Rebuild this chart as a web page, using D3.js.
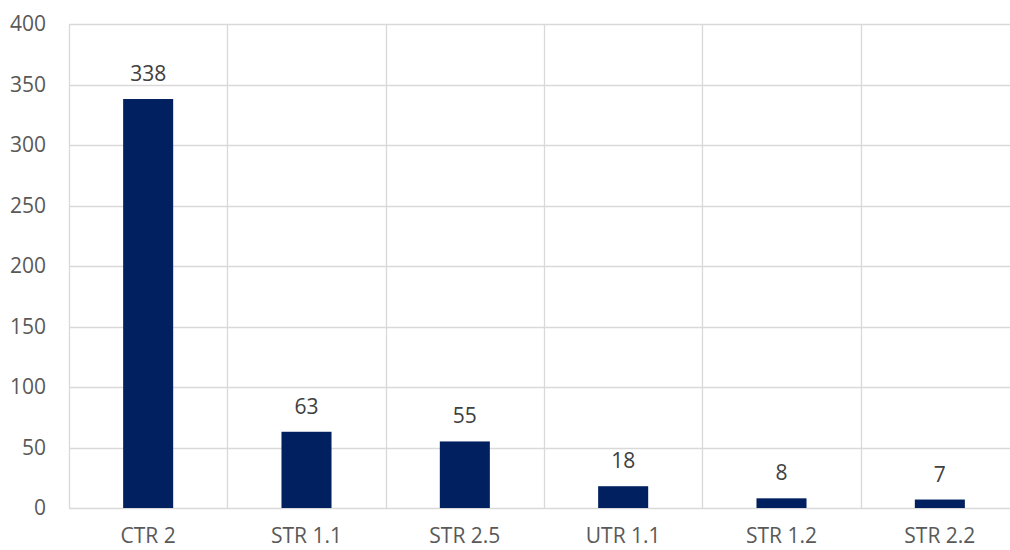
<!DOCTYPE html>
<html>
<head>
<meta charset="utf-8">
<script src="https://cdn.jsdelivr.net/npm/d3@7"></script>
<style>
  html, body { margin: 0; padding: 0; background: #ffffff; overflow: hidden; }
  svg { display: block; font-family: "Open Sans", sans-serif; }
</style>
</head>
<body>
<svg id="chart" width="1010" height="550"></svg>
<script>
const categories = ["CTR 2", "STR 1.1", "STR 2.5", "UTR 1.1", "STR 1.2", "STR 2.2"];
const values = [338, 63, 55, 18, 8, 7];
const yTicks = [0, 50, 100, 150, 200, 250, 300, 350, 400];

const svg = d3.select("#chart");
const plotLeft = 69, plotRight = 1019, plotTop = 24, plotBottom = 508;

const x = d3.scaleBand().domain(categories).range([plotLeft, plotRight]).padding(0);
const xBar = d3.scaleBand().domain(categories).range([plotLeft, plotRight])
  .paddingInner(0.684).paddingOuter(0.342);
const y = d3.scaleLinear().domain([0, 400]).range([plotBottom, plotTop]);

const grid = svg.append("g");
grid.selectAll("line.h").data(yTicks).join("line")
  .attr("x1", plotLeft).attr("x2", plotRight)
  .attr("y1", d => Math.round(y(d)) + 0.5).attr("y2", d => Math.round(y(d)) + 0.5)
  .attr("stroke", "#d9d9d9").attr("stroke-width", 1.3);
const bounds = categories.map(c => x(c)).concat([plotRight]);
grid.selectAll("line.v").data(bounds).join("line")
  .attr("x1", d => Math.round(d) + 0.5).attr("x2", d => Math.round(d) + 0.5)
  .attr("y1", plotTop).attr("y2", plotBottom)
  .attr("stroke", "#d9d9d9").attr("stroke-width", 1.3);

svg.append("g").selectAll("rect").data(values).join("rect")
  .attr("x", (d, i) => xBar(categories[i]))
  .attr("width", xBar.bandwidth())
  .attr("y", d => y(d))
  .attr("height", d => y(0) - y(d))
  .attr("fill", "#002060");

svg.append("g").selectAll("text").data(values).join("text")
  .attr("x", (d, i) => xBar(categories[i]) + xBar.bandwidth() / 2)
  .attr("y", d => y(d) - 18)
  .attr("text-anchor", "middle")
  .attr("font-size", 21)
  .attr("fill", "#404040")
  .text(d => d);

const yAxis = d3.axisLeft(y).tickValues(yTicks).tickSize(0).tickPadding(23);
const gy = svg.append("g").attr("transform", `translate(${plotLeft},0)`).call(yAxis);
gy.select(".domain").remove();
gy.selectAll("text").attr("font-size", 21).attr("fill", "#595959")
  .attr("font-family", "Open Sans, sans-serif");

const xAxis = d3.axisBottom(x).tickSize(0).tickPadding(20);
const gx = svg.append("g").attr("transform", `translate(0,${plotBottom})`).call(xAxis);
gx.select(".domain").remove();
gx.selectAll("text").attr("font-size", 21).attr("fill", "#595959")
  .attr("font-family", "Open Sans, sans-serif");
</script>
</body>
</html>
